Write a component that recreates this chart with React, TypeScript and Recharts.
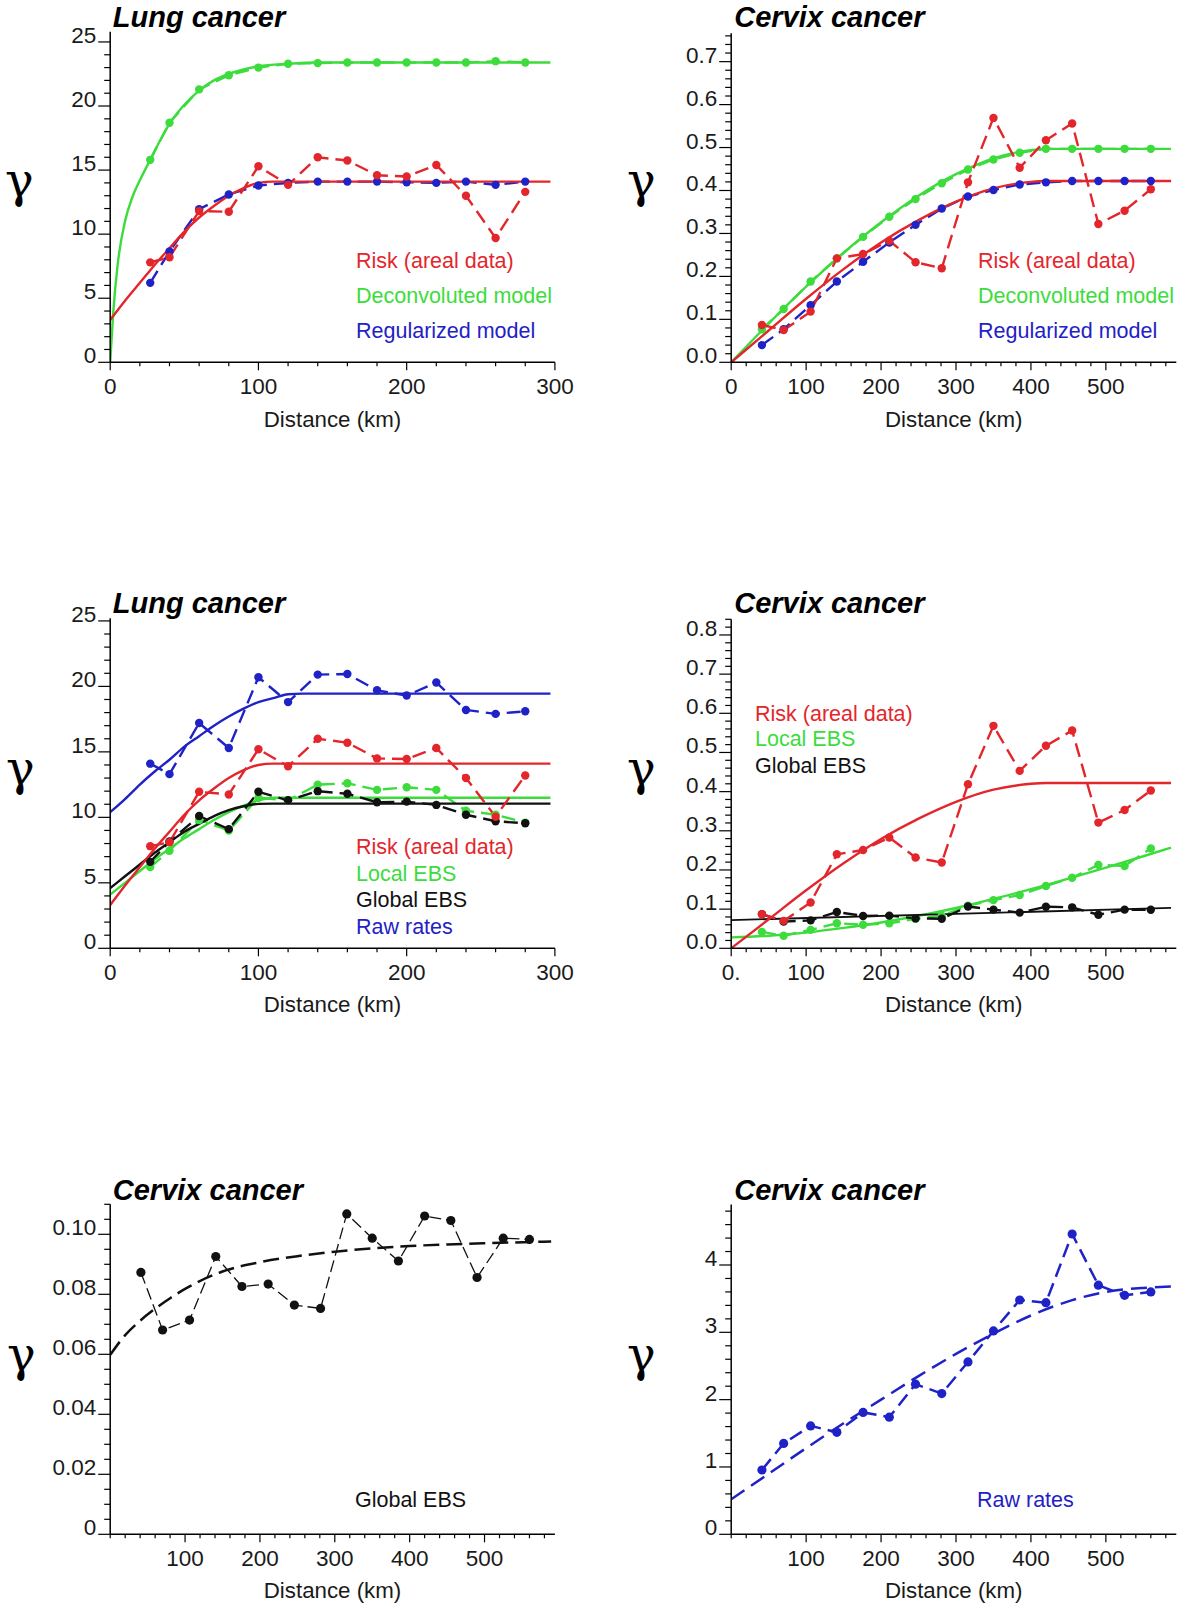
import { LineChart, Line, XAxis, YAxis } from "recharts";

const RED = "#e3262c";
const GREEN = "#3cdc3c";
const BLUE = "#1f22c6";
const BLACK = "#111111";
const SANS = '"Liberation Sans", Arial, Helvetica, sans-serif';
const SERIF = '"DejaVu Serif", "Liberation Serif", serif';

// lung cancer lags (km) and semivariogram values
const lungLags = [27, 40, 60, 80, 100, 120, 140, 160, 180, 200, 220, 240, 260, 280];
const lungRisk = [7.8, 8.2, 11.8, 11.75, 15.3, 13.85, 16.0, 15.75, 14.6, 14.5, 15.4, 13.0, 9.7, 13.3];
const lungDeconv = [15.8, 18.7, 21.3, 22.4, 23.0, 23.3, 23.35, 23.4, 23.4, 23.4, 23.4, 23.4, 23.5, 23.4];
const lungRegul = [6.2, 8.65, 11.95, 13.1, 13.8, 14.0, 14.1, 14.1, 14.1, 14.05, 14.0, 14.1, 13.85, 14.1];
const lungRisk2 = [7.8, 8.1, 11.95, 11.75, 15.2, 13.9, 16.0, 15.7, 14.5, 14.45, 15.3, 13.0, 10.05, 13.2];
const lungRaw = [14.1, 13.3, 17.2, 15.3, 20.7, 18.8, 20.9, 20.95, 19.7, 19.3, 20.3, 18.2, 17.9, 18.1];
const lungLocal = [6.2, 7.45, 9.8, 9.0, 11.5, 11.3, 12.5, 12.6, 12.1, 12.3, 12.1, 10.5, 10.2, 9.6];
const lungGlobal = [6.6, 8.15, 10.1, 9.1, 11.95, 11.3, 12.0, 11.8, 11.15, 11.2, 10.95, 10.2, 9.7, 9.55];

// lung model curves
const deconvFitX = [0, 2, 5, 10, 15, 20, 27, 35, 40, 50, 60, 70, 80, 90, 100, 120, 140, 297];
const deconvFit = [0, 3.8, 7.6, 11.0, 12.9, 14.2, 15.8, 17.6, 18.6, 20.1, 21.2, 22.0, 22.5, 22.85, 23.1, 23.3, 23.4, 23.4];
const lungFitX = [0, 10, 20, 30, 40, 50, 60, 70, 80, 90, 100, 110, 297];
const lungRiskFit = [3.3, 4.8, 6.2, 7.6, 8.9, 10.2, 11.3, 12.2, 13.0, 13.6, 14.0, 14.1, 14.1];
const lungLocalFit = [4.1, 5.0, 5.9, 6.8, 7.6, 8.4, 9.1, 9.8, 10.4, 10.9, 11.3, 11.5, 11.5];
const lungGlobalFit = [4.6, 5.5, 6.4, 7.3, 8.1, 8.9, 9.5, 10.1, 10.55, 10.85, 11.03, 11.05, 11.05];
const rawFitX = [0, 10, 20, 30, 40, 50, 60, 70, 80, 90, 100, 110, 120, 130, 297];
const lungRawFit = [10.4, 11.4, 12.5, 13.5, 14.4, 15.4, 16.2, 17.0, 17.7, 18.3, 18.8, 19.1, 19.4, 19.45, 19.45];

// cervix cancer lags (km) and values
const cervixLags = [41, 70, 106, 141, 176, 211, 246, 281, 316, 350, 385, 420, 455, 490, 525, 560];
const cervixRisk = [0.087, 0.075, 0.118, 0.242, 0.252, 0.283, 0.233, 0.219, 0.419, 0.569, 0.453, 0.517, 0.556, 0.322, 0.353, 0.403];
const cervixDeconv = [0.077, 0.124, 0.188, 0.242, 0.292, 0.339, 0.38, 0.417, 0.449, 0.472, 0.488, 0.497, 0.497, 0.497, 0.497, 0.497];
const cervixRegul = [0.04, 0.077, 0.133, 0.188, 0.234, 0.279, 0.32, 0.358, 0.386, 0.401, 0.414, 0.419, 0.422, 0.422, 0.422, 0.422];
const cervixRisk2 = [0.087, 0.07, 0.117, 0.24, 0.251, 0.283, 0.232, 0.219, 0.419, 0.568, 0.453, 0.517, 0.556, 0.321, 0.353, 0.403];
const cervixLocal = [0.042, 0.032, 0.047, 0.064, 0.06, 0.064, 0.075, 0.083, 0.109, 0.123, 0.136, 0.159, 0.18, 0.213, 0.21, 0.255];
const cervixGlobal = [0.0873, 0.0681, 0.0714, 0.0926, 0.0826, 0.0834, 0.0764, 0.0753, 0.1068, 0.0987, 0.0911, 0.1061, 0.1046, 0.0856, 0.0987, 0.0983];
const cervixRaw = [0.955, 1.35, 1.61, 1.515, 1.81, 1.74, 2.23, 2.09, 2.56, 3.02, 3.48, 3.44, 4.46, 3.7, 3.55, 3.6];

// cervix model curves
const cervixFitX = [0, 50, 100, 150, 200, 250, 300, 350, 400, 420, 587];
const cervixDeconvFit = [0, 0.09, 0.176, 0.255, 0.326, 0.388, 0.438, 0.475, 0.494, 0.497, 0.497];
const cervixRiskFit = [0, 0.074, 0.148, 0.217, 0.279, 0.331, 0.374, 0.405, 0.42, 0.422, 0.422];
const localFitX = [0, 50, 100, 150, 200, 250, 300, 350, 400, 450, 500, 550, 587];
const cervixLocalFit = [0.028, 0.032, 0.04, 0.052, 0.066, 0.083, 0.103, 0.126, 0.151, 0.178, 0.206, 0.235, 0.257];
const globalLineX = [0, 587];
const cervixGlobalLine = [0.072, 0.103];
const globalFitX = [0, 20, 40, 60, 80, 100, 150, 200, 250, 300, 350, 400, 450, 500, 589];
const cervixGlobalFit = [0.0598, 0.0664, 0.0712, 0.0752, 0.0787, 0.0818, 0.0876, 0.0907, 0.0927, 0.0942, 0.0953, 0.0961, 0.0966, 0.097, 0.0976];
const rawCervixFitX = [0, 50, 100, 150, 200, 250, 300, 350, 400, 450, 500, 550, 587];
const cervixRawFit = [0.52, 0.9, 1.28, 1.65, 2.0, 2.35, 2.68, 2.98, 3.25, 3.46, 3.6, 3.66, 3.68];

// axis ticks
const lungXMajor = [0, 100, 200, 300];
const lungXLabels = ["0", "100", "200", "300"];
const cervixXMajor = [0, 100, 200, 300, 400, 500];
const cervixXLabels = ["0", "100", "200", "300", "400", "500"];
const cervixXLabelsDot = ["0.", "100", "200", "300", "400", "500"];
const cervixXMajorNoZero = [100, 200, 300, 400, 500];
const cervixXLabelsNoZero = ["100", "200", "300", "400", "500"];
const lungYMajor = [0, 5, 10, 15, 20, 25];
const lungYLabels = ["0", "5", "10", "15", "20", "25"];
const cervixYMajor = [0, 0.1, 0.2, 0.3, 0.4, 0.5, 0.6, 0.7];
const cervixYLabels = ["0.0", "0.1", "0.2", "0.3", "0.4", "0.5", "0.6", "0.7"];
const cervixYMajor8 = [0, 0.1, 0.2, 0.3, 0.4, 0.5, 0.6, 0.7, 0.8];
const cervixYLabels8 = ["0.0", "0.1", "0.2", "0.3", "0.4", "0.5", "0.6", "0.7", "0.8"];
const globalYMajor = [0, 0.02, 0.04, 0.06, 0.08, 0.1];
const globalYLabels = ["0", "0.02", "0.04", "0.06", "0.08", "0.10"];
const rawYMajor = [0, 1, 2, 3, 4];
const rawYLabels = ["0", "1", "2", "3", "4"];

type Pt = { x: number; y: number };
const zip = (xs: number[], ys: number[]): Pt[] => xs.map((x, i) => ({ x, y: ys[i] }));
const steps = (max: number, step: number) =>
  Array.from({ length: Math.floor(max / step + 1e-6) + 1 }, (_, i) => +(i * step).toFixed(4));

type Series = { data: Pt[]; color: string; width?: number; dash?: string; r?: number; smooth?: boolean };

const isMajor = (majors: number[], v: number) => majors.findIndex((m) => Math.abs(m - v) < 1e-6);

function makeYTick(majors: number[], labels: string[]) {
  return (props: any) => {
    const { x, y, payload } = props;
    const i = isMajor(majors, payload.value);
    return (
      <g>
        <line x1={x - (i >= 0 ? 12 : 6)} x2={x} y1={y} y2={y} stroke="#000" strokeWidth={1.2} />
        {i >= 0 && (
          <text x={x - 14} y={y + 1} textAnchor="end" fontSize={22.5} fontFamily={SANS} fill="#1a1a1a">
            {labels[i]}
          </text>
        )}
      </g>
    );
  };
}

function makeXTick(majors: number[], labels: string[]) {
  return (props: any) => {
    const { x, y, payload } = props;
    const i = isMajor(majors, payload.value);
    return (
      <g>
        <line x1={x} x2={x} y1={y} y2={y + (i >= 0 ? 8 : 4)} stroke="#000" strokeWidth={1.2} />
        {i >= 0 && (
          <text x={x} y={y + 32} textAnchor="middle" fontSize={22.5} fontFamily={SANS} fill="#1a1a1a">
            {labels[i]}
          </text>
        )}
      </g>
    );
  };
}

type PanelProps = {
  left: number;
  top: number;
  height: number;
  margin: { top: number; right: number; bottom: number; left: number };
  xMax: number;
  xTicks: number[];
  xMajor: number[];
  xLabels: string[];
  yMax: number;
  yTicks: number[];
  yMajor: number[];
  yLabels: string[];
  series: Series[];
};

// axes take 1px of the margin so recharts still draws them
function Panel(p: PanelProps) {
  const m = { ...p.margin, left: p.margin.left - 1, bottom: p.margin.bottom - 1 };
  return (
    <div style={{ position: "absolute", left: p.left, top: p.top }}>
      <LineChart width={600} height={p.height} margin={m}>
        <XAxis
          type="number"
          dataKey="x"
          domain={[0, p.xMax]}
          ticks={p.xTicks}
          interval={0}
          tickSize={0}
          tickMargin={0}
          height={1}
          axisLine={{ stroke: "#000", strokeWidth: 1.5 }}
          tick={makeXTick(p.xMajor, p.xLabels)}
          allowDataOverflow
        />
        <YAxis
          type="number"
          domain={[0, p.yMax]}
          ticks={p.yTicks}
          interval={0}
          tickSize={0}
          tickMargin={0}
          width={1}
          axisLine={{ stroke: "#000", strokeWidth: 1.5 }}
          tick={makeYTick(p.yMajor, p.yLabels)}
          allowDataOverflow
        />
        {p.series.map((s, i) => (
          <Line
            key={i}
            data={s.data}
            dataKey="y"
            type={s.smooth ? "monotone" : "linear"}
            stroke={s.color}
            strokeWidth={s.width ?? 2.4}
            strokeDasharray={s.dash}
            dot={s.r ? { r: s.r, fill: s.color, stroke: "none" } : false}
            activeDot={false}
            isAnimationActive={false}
          />
        ))}
      </LineChart>
    </div>
  );
}

const DASH = "14 7";
const R = 4.2;
const lungXTicks = steps(300, 20);
const cervixXTicks = steps(580, 20);
const leftMargin = { left: 110.2, right: 45.1 };
const rightMargin = { left: 131.2, right: 23.7 };

export default function App() {
  return (
    <div style={{ position: "absolute", left: 0, top: 0, width: 1200, height: 1609, background: "#fff", overflow: "hidden" }}>
      <Panel
        left={0}
        top={0}
        height={440}
        margin={{ top: 31.7, bottom: 77.7, ...leftMargin }}
        xMax={300}
        xTicks={lungXTicks}
        xMajor={lungXMajor}
        xLabels={lungXLabels}
        yMax={25.8}
        yTicks={steps(25, 1)}
        yMajor={lungYMajor}
        yLabels={lungYLabels}
        series={[
          { data: zip(deconvFitX, deconvFit), color: GREEN, smooth: true },
          { data: zip(lungLags, lungDeconv), color: GREEN, dash: DASH, r: R },
          { data: zip(lungLags, lungRegul), color: BLUE, dash: DASH, r: R },
          { data: zip(lungFitX, lungRiskFit), color: RED, smooth: true },
          { data: zip(lungLags, lungRisk), color: RED, dash: DASH, r: R },
        ]}
      />
      <Panel
        left={600}
        top={0}
        height={440}
        margin={{ top: 33.3, bottom: 77.7, ...rightMargin }}
        xMax={594}
        xTicks={cervixXTicks}
        xMajor={cervixXMajor}
        xLabels={cervixXLabels}
        yMax={0.766}
        yTicks={steps(0.76, 0.02)}
        yMajor={cervixYMajor}
        yLabels={cervixYLabels}
        series={[
          { data: zip(cervixFitX, cervixDeconvFit), color: GREEN, smooth: true },
          { data: zip(cervixLags, cervixDeconv), color: GREEN, dash: DASH, r: R },
          { data: zip(cervixLags, cervixRegul), color: BLUE, dash: DASH, r: R },
          { data: zip(cervixFitX, cervixRiskFit), color: RED, smooth: true },
          { data: zip(cervixLags, cervixRisk), color: RED, dash: DASH, r: R },
        ]}
      />
      <Panel
        left={0}
        top={580}
        height={440}
        margin={{ top: 38.3, bottom: 71.7, ...leftMargin }}
        xMax={300}
        xTicks={lungXTicks}
        xMajor={lungXMajor}
        xLabels={lungXLabels}
        yMax={25.2}
        yTicks={steps(25, 1)}
        yMajor={lungYMajor}
        yLabels={lungYLabels}
        series={[
          { data: zip(rawFitX, lungRawFit), color: BLUE, smooth: true },
          { data: zip(lungLags, lungRaw), color: BLUE, dash: DASH, r: R },
          { data: zip(lungFitX, lungLocalFit), color: GREEN, smooth: true },
          { data: zip(lungLags, lungLocal), color: GREEN, dash: DASH, r: R },
          { data: zip(lungFitX, lungGlobalFit), color: BLACK, smooth: true },
          { data: zip(lungLags, lungGlobal), color: BLACK, dash: DASH, r: R },
          { data: zip(lungFitX, lungRiskFit), color: RED, smooth: true },
          { data: zip(lungLags, lungRisk2), color: RED, dash: DASH, r: R },
        ]}
      />
      <Panel
        left={600}
        top={580}
        height={440}
        margin={{ top: 39.3, bottom: 71.7, ...rightMargin }}
        xMax={594}
        xTicks={cervixXTicks}
        xMajor={cervixXMajor}
        xLabels={cervixXLabelsDot}
        yMax={0.84}
        yTicks={steps(0.84, 0.02)}
        yMajor={cervixYMajor8}
        yLabels={cervixYLabels8}
        series={[
          { data: zip(localFitX, cervixLocalFit), color: GREEN, smooth: true },
          { data: zip(cervixLags, cervixLocal), color: GREEN, dash: DASH, r: R },
          { data: zip(globalLineX, cervixGlobalLine), color: BLACK, width: 1.8 },
          { data: zip(cervixLags, cervixGlobal), color: BLACK, dash: DASH, r: R },
          { data: zip(cervixFitX, cervixRiskFit), color: RED, smooth: true },
          { data: zip(cervixLags, cervixRisk2), color: RED, dash: DASH, r: R },
        ]}
      />
      <Panel
        left={0}
        top={1160}
        height={449}
        margin={{ top: 44.3, bottom: 74.7, ...leftMargin }}
        xMax={594}
        xTicks={cervixXTicks}
        xMajor={cervixXMajorNoZero}
        xLabels={cervixXLabelsNoZero}
        yMax={0.11}
        yTicks={steps(0.11, 0.005)}
        yMajor={globalYMajor}
        yLabels={globalYLabels}
        series={[
          { data: zip(globalFitX, cervixGlobalFit), color: BLACK, smooth: true, width: 2.5, dash: "16 7" },
          { data: zip(cervixLags, cervixGlobal), color: BLACK, width: 1.3, dash: "12 5", r: 4.6 },
        ]}
      />
      <Panel
        left={600}
        top={1160}
        height={449}
        margin={{ top: 44.4, bottom: 74.7, ...rightMargin }}
        xMax={594}
        xTicks={cervixXTicks}
        xMajor={cervixXMajorNoZero}
        xLabels={cervixXLabelsNoZero}
        yMax={4.9}
        yTicks={steps(4.8, 0.2)}
        yMajor={rawYMajor}
        yLabels={rawYLabels}
        series={[
          { data: zip(rawCervixFitX, cervixRawFit), color: BLUE, smooth: true, width: 2.5, dash: "16 8" },
          { data: zip(cervixLags, cervixRaw), color: BLUE, width: 2.5, dash: DASH, r: 4.6 },
        ]}
      />
      <svg width={1200} height={1609} style={{ position: "absolute", left: 0, top: 0, pointerEvents: "none" }}>
        <g fontFamily={SANS} fontSize={29} fontWeight="bold" fontStyle="italic" fill="#000">
          <text x={112.8} y={27}>Lung cancer</text>
          <text x={734.2} y={27}>Cervix cancer</text>
          <text x={112.8} y={613}>Lung cancer</text>
          <text x={734.2} y={613}>Cervix cancer</text>
          <text x={112.8} y={1200}>Cervix cancer</text>
          <text x={734.2} y={1200}>Cervix cancer</text>
        </g>
        <g fontFamily={SERIF} fontSize={48} fill="#000">
          <text x={5} y={197}>γ</text>
          <text x={627} y={197}>γ</text>
          <text x={6} y={785}>γ</text>
          <text x={627} y={785}>γ</text>
          <text x={7} y={1371}>γ</text>
          <text x={627} y={1371}>γ</text>
        </g>
        <g fontFamily={SANS} fontSize={22.3} fill="#1a1a1a" textAnchor="middle">
          <text x={332.5} y={426.7}>Distance (km)</text>
          <text x={953.7} y={426.7}>Distance (km)</text>
          <text x={332.5} y={1012}>Distance (km)</text>
          <text x={953.7} y={1012}>Distance (km)</text>
          <text x={332.5} y={1597.5}>Distance (km)</text>
          <text x={953.7} y={1597.5}>Distance (km)</text>
        </g>
        <g fontFamily={SANS} fontSize={21.5}>
          <text x={356} y={268} fill={RED}>Risk (areal data)</text>
          <text x={356} y={303} fill={GREEN}>Deconvoluted model</text>
          <text x={356} y={338} fill={BLUE}>Regularized model</text>
          <text x={978} y={268} fill={RED}>Risk (areal data)</text>
          <text x={978} y={303} fill={GREEN}>Deconvoluted model</text>
          <text x={978} y={338} fill={BLUE}>Regularized model</text>
          <text x={356} y={854} fill={RED}>Risk (areal data)</text>
          <text x={356} y={881} fill={GREEN}>Local EBS</text>
          <text x={356} y={907} fill={BLACK}>Global EBS</text>
          <text x={356} y={934} fill={BLUE}>Raw rates</text>
          <text x={755} y={720.5} fill={RED}>Risk (areal data)</text>
          <text x={755} y={746} fill={GREEN}>Local EBS</text>
          <text x={755} y={773} fill={BLACK}>Global EBS</text>
          <text x={355} y={1507} fill={BLACK}>Global EBS</text>
          <text x={977} y={1507} fill={BLUE}>Raw rates</text>
        </g>
      </svg>
    </div>
  );
}
